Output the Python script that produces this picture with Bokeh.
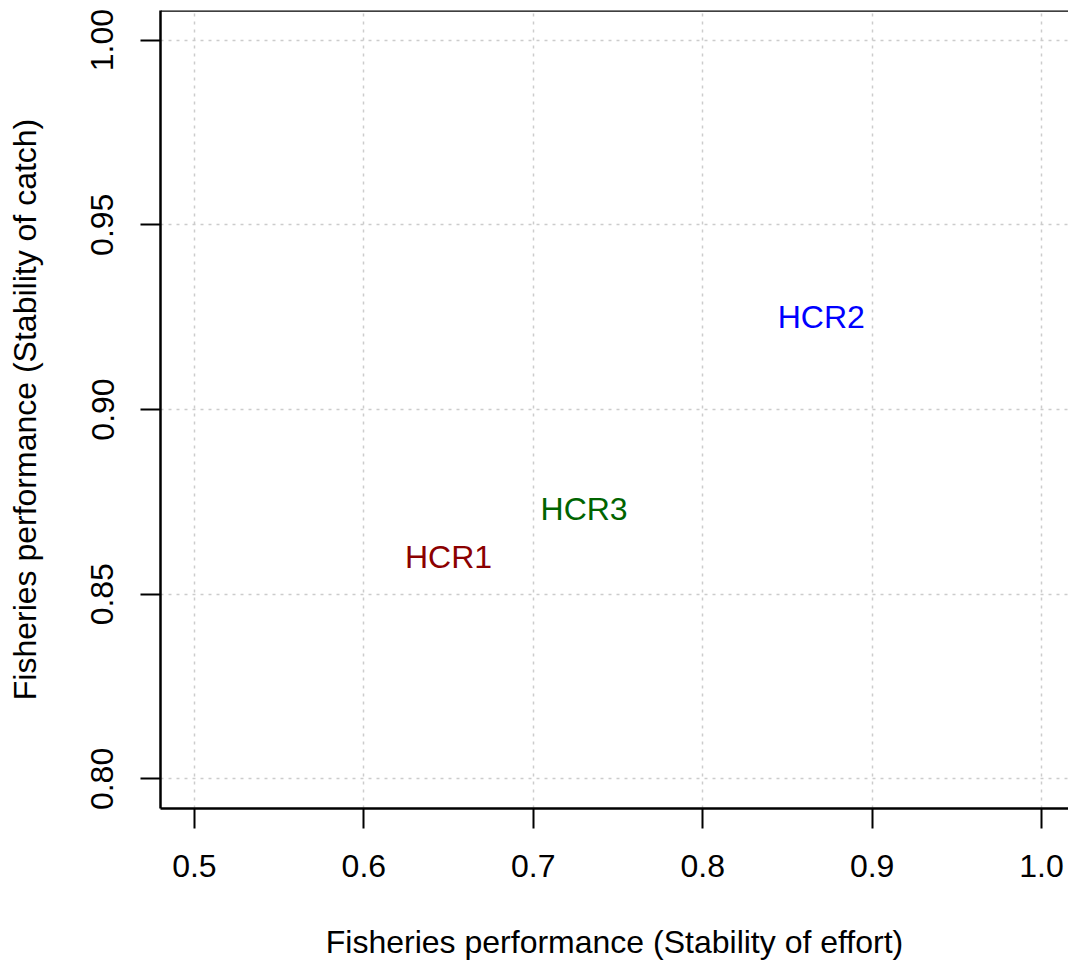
from bokeh.plotting import figure
from bokeh.models import Range1d, FixedTicker, PrintfTickFormatter, Span, ColumnDataSource
from bokeh.embed import file_html
from bokeh.resources import INLINE
from bokeh.core.properties import value

labels = ["HCR1", "HCR2", "HCR3"]
effort = [0.65, 0.87, 0.73]
catch = [0.86, 0.925, 0.873]
colors = ["#8B0000", "#0000FF", "#006400"]
x_ticks = [0.5, 0.6, 0.7, 0.8, 0.9, 1.0]
y_ticks = [0.80, 0.85, 0.90, 0.95, 1.00]

FONT = "Liberation Sans"
FS = "32px"

p = figure(frame_width=908, frame_height=798, output_backend="svg", toolbar_location=None,
           x_range=Range1d(0.48, 0.5 + 876 / 1698), y_range=Range1d(0.792, 1.008),
           min_border_left=160, min_border_right=0, min_border_top=10, min_border_bottom=157)
p.outline_line_color = None
p.background_fill_color = "white"
p.border_fill_color = "white"

for ax, ticks, fmt in ((p.xaxis[0], x_ticks, "%.1f"), (p.yaxis[0], y_ticks, "%.2f")):
    ax.ticker = FixedTicker(ticks=ticks)
    ax.formatter = PrintfTickFormatter(format=fmt)
    ax.axis_line_color = "black"
    ax.axis_line_width = 2.5
    ax.major_tick_line_color = "black"
    ax.major_tick_line_width = 2
    ax.major_tick_out = 20
    ax.major_tick_in = 0
    ax.minor_tick_line_color = None
    ax.major_label_text_font = FONT
    ax.major_label_text_font_size = FS
    ax.major_label_text_color = "black"
    ax.axis_label_text_font = FONT
    ax.axis_label_text_font_size = FS
    ax.axis_label_text_font_style = "normal"
    ax.axis_label_text_color = "black"

p.xaxis.axis_label = "Fisheries performance (Stability of effort)"
p.yaxis.axis_label = "Fisheries performance (Stability of catch)"
p.yaxis.major_label_orientation = "vertical"
p.xaxis.major_label_standoff = 26
p.yaxis.major_label_standoff = 27
p.xaxis.axis_label_standoff = 44
p.yaxis.axis_label_standoff = 46

for g in (p.xgrid[0], p.ygrid[0]):
    g.grid_line_color = "#cccccc"
    g.grid_line_dash = "3 5"
    g.grid_line_width = 1.5
p.xgrid.ticker = FixedTicker(ticks=x_ticks)
p.ygrid.ticker = FixedTicker(ticks=y_ticks)

p.add_layout(Span(location=1.008, dimension="width", line_color="black", line_width=2.5))

src = ColumnDataSource(dict(x=effort, y=catch, t=labels, c=colors))
p.text(x="x", y="y", text="t", text_color="c", source=src, text_font=value(FONT),
       text_font_size=FS, text_align="center", text_baseline="middle")

open("out.html", "w").write(file_html(p, INLINE))
